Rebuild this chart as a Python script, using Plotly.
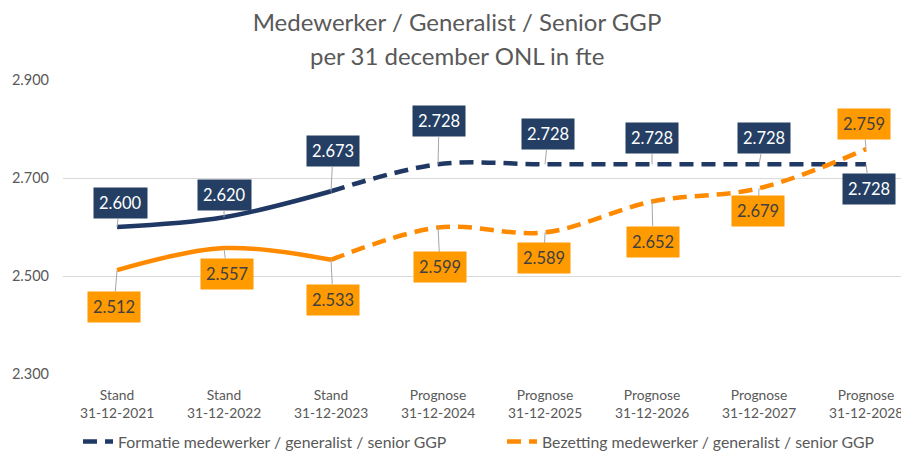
import plotly.graph_objects as go

categories = ["Stand<br>31-12-2021", "Stand<br>31-12-2022", "Stand<br>31-12-2023",
              "Prognose<br>31-12-2024", "Prognose<br>31-12-2025", "Prognose<br>31-12-2026",
              "Prognose<br>31-12-2027", "Prognose<br>31-12-2028"]
formatie = [2600, 2620, 2673, 2728, 2728, 2728, 2728, 2728]
bezetting = [2512, 2557, 2533, 2599, 2589, 2652, 2679, 2759]
y_ticks = [2300, 2500, 2700, 2900]

name_f = "Formatie medewerker / generalist / senior GGP"
name_b = "Bezetting medewerker / generalist / senior GGP"

BLUE_LINE = "#203864"
BLUE_BOX = "#243F63"
OR_LINE = "#FF8A00"
OR_BOX = "#FF9A00"
GRAY = "#595959"
FONT = "Lato"

W, H = 901, 445
L, R, T, B = 55, 4, 72, 79
PW, PH = W - L - R, H - T - B

x = list(range(len(categories)))
n_actual = 3  # first three points are realised (solid), rest forecast (dashed)

fig = go.Figure()
for vals, col, nm, lg in [(formatie, BLUE_LINE, name_f, "legend"), (bezetting, OR_LINE, name_b, "legend2")]:
    fig.add_trace(go.Scatter(x=x[:n_actual], y=vals[:n_actual], mode="lines",
                             line=dict(color=col, width=4.5, shape="spline"),
                             showlegend=False, hoverinfo="skip"))
    fig.add_trace(go.Scatter(x=x[n_actual - 1:], y=vals[n_actual - 1:], mode="lines",
                             line=dict(color=col, width=4.5, shape="spline", dash="14px,8px"),
                             name=nm, legend=lg))

def fmt(v):
    return f"{v:,}".replace(",", ".")

blue_off = [(3, -24), (0, -22), (2, -40), (1, -43), (3, -30), (0, -26), (5, -26), (3, 25)]
or_off = [(-3, 37), (3, 26), (2, 40), (2, 40), (-1, 26), (1, 40), (-1, 23), (-2, -25)]

annotations = []
for vals, offs, box, tc in [(formatie, blue_off, BLUE_BOX, "white"), (bezetting, or_off, OR_BOX, "#404040")]:
    for i, v in enumerate(vals):
        annotations.append(dict(
            x=x[i], y=v, xref="x", yref="y", text=fmt(v),
            showarrow=True, arrowhead=0, arrowwidth=1, arrowcolor="#A6A6A6",
            ax=offs[i][0], ay=offs[i][1], standoff=0,
            bgcolor=box, borderpad=5,
            font=dict(family=FONT, size=16.5, color=tc)))

annotations.append(dict(text="per 31 december ONL in fte", xref="paper", yref="paper",
                        x=(449 - L) / PW, y=(T + PH - 48) / PH, xanchor="center", yanchor="middle",
                        showarrow=False, font=dict(family=FONT, size=24, color=GRAY)))

legend_common = dict(orientation="h", y=-0.23, xanchor="left", yanchor="middle",
                     font=dict(family=FONT, size=15.8, color=GRAY), bgcolor="rgba(0,0,0,0)")

fig.update_layout(
    width=W, height=H,
    margin=dict(l=L, r=R, t=T, b=B, autoexpand=False),
    paper_bgcolor="white", plot_bgcolor="white",
    separators=",.",
    title=dict(text="Medewerker / Generalist / Senior GGP", xref="container", yref="container",
               x=449 / W, y=1 - 15 / H, xanchor="center", yanchor="middle",
               font=dict(family=FONT, size=24, color=GRAY)),
    font=dict(family=FONT, color=GRAY),
    annotations=annotations,
    legend=dict(x=(70 - L) / PW, **legend_common),
    legend2=dict(x=(494 - L) / PW, **legend_common),
    xaxis=dict(tickmode="array", tickvals=x, ticktext=categories, automargin=False,
               range=[-0.505, 7.364], showgrid=False, zeroline=False, showline=False,
               tickfont=dict(family=FONT, size=13.8, color=GRAY), ticklabelstandoff=11),
    yaxis=dict(range=[2300, 2900], tickvals=y_ticks, tickformat=",.0f", automargin=False,
               showgrid=True, gridcolor="#D9D9D9", gridwidth=1, zeroline=False, showline=False,
               tickfont=dict(family=FONT, size=14.5, color=GRAY), ticklabelstandoff=13),
)

fig.write_html("out.html")
